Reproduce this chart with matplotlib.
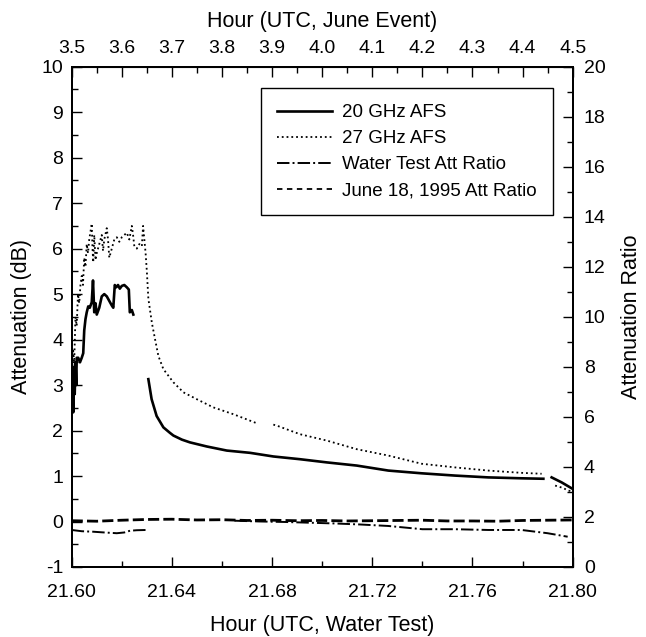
import matplotlib
matplotlib.use("Agg")
import matplotlib.pyplot as plt
from matplotlib.ticker import MultipleLocator, FormatStrFormatter

plt.rcParams['font.family'] = ['Liberation Sans', 'DejaVu Sans']
plt.rcParams['font.size'] = 14
plt.rcParams['axes.unicode_minus'] = False

# 20 GHz AFS attenuation (dB), water test hours
t20_a = [21.6000, 21.6003, 21.6006, 21.6009, 21.6012, 21.6015, 21.6018, 21.6020,
         21.6026, 21.6033, 21.6040, 21.6046, 21.6050, 21.6055, 21.6060, 21.6066,
         21.6072, 21.6080, 21.6085, 21.6090, 21.6095, 21.6100, 21.6110, 21.6120,
         21.6130, 21.6140, 21.6150, 21.6160, 21.6166, 21.6172, 21.6178, 21.6185,
         21.6192, 21.6200, 21.6210, 21.6220, 21.6228, 21.6232, 21.6240, 21.6246]
a20_a = [2.5, 3.3, 2.4, 3.4, 2.8, 3.5, 3.0, 3.6,
         3.6, 3.5, 3.6, 3.7, 4.2, 4.45, 4.6, 4.73,
         4.7, 4.82, 5.3, 4.6, 4.8, 4.55, 4.7, 4.95,
         5.0, 4.95, 4.85, 4.75, 4.7, 5.2, 5.15, 5.2,
         5.12, 5.18, 5.2, 5.15, 5.1, 4.6, 4.65, 4.55]
t20_b = [21.6306, 21.6319, 21.6339, 21.6366, 21.6392, 21.6406, 21.6440, 21.6472,
         21.6539, 21.6619, 21.6712, 21.6805, 21.6911, 21.7018, 21.7138, 21.7264,
         21.7397, 21.7530, 21.7663, 21.7796, 21.7883]
a20_b = [3.13, 2.69, 2.32, 2.07, 1.95, 1.89, 1.80, 1.74,
         1.65, 1.56, 1.51, 1.43, 1.37, 1.30, 1.23, 1.12,
         1.06, 1.01, 0.97, 0.95, 0.94]
t20_c = [21.7916, 21.7956, 21.7996]
a20_c = [0.97, 0.86, 0.73]

# 27 GHz AFS attenuation (dB)
t27_a = [21.6000, 21.6005, 21.6010, 21.6015, 21.6020, 21.6025, 21.6030, 21.6035,
         21.6040, 21.6045, 21.6050, 21.6055, 21.6060, 21.6065, 21.6070, 21.6080,
         21.6083, 21.6086, 21.6090, 21.6095, 21.6100, 21.6110, 21.6120, 21.6125,
         21.6130, 21.6140, 21.6145, 21.6150, 21.6160, 21.6170, 21.6180, 21.6190,
         21.6200, 21.6210, 21.6220, 21.6230, 21.6240, 21.6245, 21.6250, 21.6260,
         21.6270, 21.6280, 21.6285, 21.6290, 21.6295, 21.6300, 21.6306, 21.6320,
         21.6333, 21.6346, 21.6366, 21.6406, 21.6446, 21.6499, 21.6565, 21.6645,
         21.6739]
a27_a = [3.0, 3.8, 3.5, 4.5, 4.3, 5.0, 4.8, 5.2,
         5.4, 5.2, 5.8, 5.6, 6.1, 5.9, 6.2, 6.55,
         6.0, 5.7, 6.3, 5.75, 5.9, 6.1, 6.3, 5.95,
         6.2, 6.45, 6.2, 5.8, 6.0, 6.2, 6.25, 6.15,
         6.25, 6.3, 6.35, 6.2, 6.5, 6.3, 6.05, 6.0,
         6.1, 6.05, 6.5, 6.2, 5.9, 5.5, 4.9, 4.37,
         4.0, 3.64, 3.35, 3.06, 2.84, 2.69, 2.51, 2.36,
         2.16]
t27_b = [21.6805, 21.6818, 21.6911, 21.7018, 21.7138, 21.7264, 21.7397, 21.7530,
         21.7663, 21.7796, 21.7876]
a27_b = [2.13, 2.11, 1.92, 1.78, 1.59, 1.45, 1.27, 1.19,
         1.12, 1.07, 1.05]
t27_c = [21.7930, 21.7960, 21.7983, 21.8000]
a27_c = [0.79, 0.74, 0.68, 0.66]

# attenuation ratios (right axis)
t_june = [21.600, 21.610, 21.620, 21.630, 21.640, 21.650, 21.660, 21.670, 21.680,
          21.690, 21.700, 21.710, 21.720, 21.730, 21.740, 21.750, 21.760, 21.770,
          21.780, 21.790, 21.800]
r_june = [1.85, 1.83, 1.87, 1.90, 1.91, 1.88, 1.89, 1.86, 1.87,
          1.85, 1.86, 1.84, 1.85, 1.86, 1.87, 1.84, 1.84, 1.83,
          1.86, 1.87, 1.88]
t_water_a = [21.6000, 21.6040, 21.6086, 21.6130, 21.6180, 21.6210, 21.6233, 21.6260,
             21.6299]
r_water_a = [1.48, 1.43, 1.41, 1.38, 1.35, 1.38, 1.45, 1.47, 1.48]
t_water_b = [21.6650, 21.6750, 21.6850, 21.6950, 21.7050, 21.7150, 21.7264, 21.7400,
             21.7530, 21.7663, 21.7796, 21.7900, 21.7980]
r_water_b = [1.85, 1.82, 1.80, 1.77, 1.74, 1.70, 1.64, 1.51,
             1.51, 1.48, 1.48, 1.35, 1.21]

fig = plt.figure(figsize=(6.46, 6.37), dpi=100)
ax = fig.add_axes([0.111, 0.1099, 0.7755, 0.7854])
ax2 = ax.twinx()

ax.plot(t20_a, a20_a, color='black', lw=1.9, ls='-', label='20 GHz AFS')
ax.plot(t20_b, a20_b, color='black', lw=1.9, ls='-')
ax.plot(t20_c, a20_c, color='black', lw=1.9, ls='-')
ax.plot(t27_a, a27_a, color='black', lw=1.3, ls=':', label='27 GHz AFS')
ax.plot(t27_b, a27_b, color='black', lw=1.3, ls=':')
ax.plot(t27_c, a27_c, color='black', lw=1.3, ls=':')

ax2.plot(t_water_a, r_water_a, color='black', lw=1.4, ls='-.', label='Water Test Att Ratio')
ax2.plot(t_water_b, r_water_b, color='black', lw=1.4, ls='-.')
ax2.plot(t_june, r_june, color='black', lw=2.0, dashes=(4, 1.5))
ax2.plot([], [], color='black', lw=1.3, dashes=(3, 2.5), label='June 18, 1995 Att Ratio')

ax.set_xlim(21.60, 21.80)
ax.set_ylim(-1, 10)
ax2.set_ylim(0, 20)

ax.xaxis.set_major_locator(MultipleLocator(0.04))
ax.xaxis.set_minor_locator(MultipleLocator(0.02))
ax.xaxis.set_major_formatter(FormatStrFormatter('%.2f'))
ax.yaxis.set_major_locator(MultipleLocator(1))
ax.yaxis.set_minor_locator(MultipleLocator(0.5))
ax2.yaxis.set_major_locator(MultipleLocator(2))
ax2.yaxis.set_minor_locator(MultipleLocator(1))

top = ax.secondary_xaxis('top', functions=(lambda x: 3.5 + (x - 21.6) * 5.0,
                                           lambda h: 21.6 + (h - 3.5) / 5.0))
top.xaxis.set_major_locator(MultipleLocator(0.1))
top.xaxis.set_minor_locator(MultipleLocator(0.05))
top.xaxis.set_major_formatter(FormatStrFormatter('%.1f'))

for a in (ax, ax2):
    for s in a.spines.values():
        s.set_linewidth(1.4)
ax.tick_params(which='major', direction='in', length=7, width=1, pad=6, labelsize=14)
ax.tick_params(axis='x', which='major', pad=12)
ax.tick_params(which='minor', direction='in', length=4, width=1)
ax2.tick_params(which='major', direction='in', length=7, width=1, pad=8, labelsize=14)
ax2.tick_params(which='minor', direction='in', length=4, width=1)
top.tick_params(which='major', direction='in', length=7, width=1, pad=7, labelsize=14)
top.tick_params(which='minor', direction='in', length=4, width=1)

ax.set_xlabel('Hour (UTC, Water Test)', fontsize=15.5, labelpad=10)
ax.set_ylabel('Attenuation (dB)', fontsize=15.5, labelpad=7)
ax2.set_ylabel('Attenuation Ratio', fontsize=15.5, labelpad=11)
top.set_xlabel('Hour (UTC, June Event)', fontsize=15.5, labelpad=9)

h1, l1 = ax.get_legend_handles_labels()
h2, l2 = ax2.get_legend_handles_labels()
leg = ax2.legend(h1 + h2, l1 + l2, loc='upper right', bbox_to_anchor=(0.96, 0.957),
                 borderaxespad=0, fancybox=False, edgecolor='black', framealpha=1,
                 fontsize=13.5, handlelength=2.9, handletextpad=0.55, labelspacing=0.47,
                 borderpad=0.85)
leg.get_frame().set_linewidth(1.0)

fig.savefig('out.png', dpi=100)
